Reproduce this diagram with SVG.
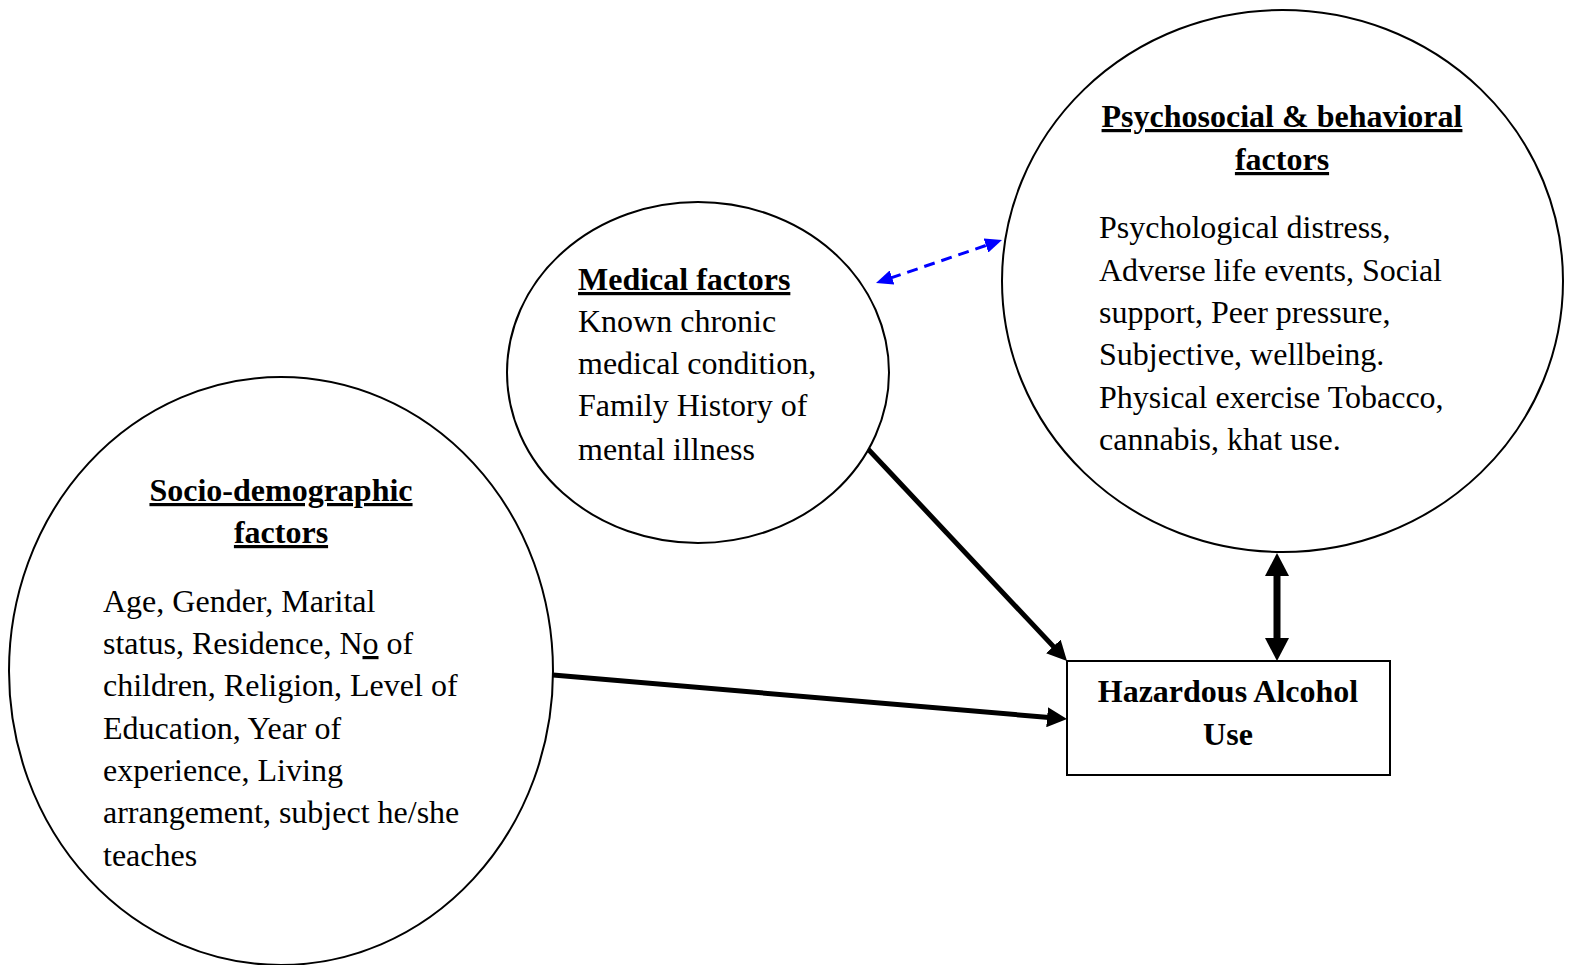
<svg xmlns="http://www.w3.org/2000/svg" width="1572" height="965" viewBox="0 0 1572 965">
<style>
.node{fill:#fff;stroke:#000;stroke-width:2}
.t{font-family:"Liberation Serif","Times New Roman",serif;font-size:32px;fill:#000}
.h{font-family:"Liberation Serif","Times New Roman",serif;font-size:32px;font-weight:bold;fill:#000;text-decoration:underline}
.b{font-family:"Liberation Serif","Times New Roman",serif;font-size:32px;font-weight:bold;fill:#000}
.c{stroke:#000;stroke-width:5;fill:none}
.v{stroke:#000;stroke-width:7;fill:none}
.d{stroke:#0000ff;stroke-width:3;fill:none;stroke-dasharray:11,7}
</style>
<defs>
<marker id="ah" viewBox="0 0 20 20" refX="2" refY="10" markerWidth="20" markerHeight="20" orient="auto-start-reverse" markerUnits="userSpaceOnUse">
<path d="M0,0 L20,10 L0,20 z" fill="#000"/>
</marker>
<marker id="vh" viewBox="0 0 23 24" refX="2" refY="12" markerWidth="23" markerHeight="24" orient="auto-start-reverse" markerUnits="userSpaceOnUse">
<path d="M0,0 L23,12 L0,24 z" fill="#000"/>
</marker>
<marker id="bh" viewBox="0 0 17 15" refX="2" refY="7.5" markerWidth="17" markerHeight="15" orient="auto-start-reverse" markerUnits="userSpaceOnUse">
<path d="M0,0 L17,7.5 L0,15 z" fill="#0000ff"/>
</marker>
</defs>
<rect width="1572" height="965" fill="#fff"/>
<g id="connectors">
<line class="c" x1="553" y1="675" x2="1049.1" y2="717.5" marker-end="url(#ah)"/>
<line class="c" x1="868" y1="449" x2="1054.7" y2="647.9" marker-end="url(#ah)"/>
<line class="v" x1="1277" y1="574" x2="1277" y2="640" marker-start="url(#vh)" marker-end="url(#vh)"/>
<line class="d" x1="890.2" y1="278.2" x2="987.8" y2="244.8" marker-start="url(#bh)" marker-end="url(#bh)"/>
</g>
<g id="socio">
<ellipse class="node" cx="281" cy="671" rx="272" ry="294"/>
<text class="h" x="281" y="501" text-anchor="middle">Socio-demographic</text>
<text class="h" x="281" y="543" text-anchor="middle">factors</text>
<text class="t" x="103" y="612">Age, Gender, Marital</text>
<text class="t" x="103" y="654">status, Residence, N<tspan text-decoration="underline">o</tspan> of</text>
<text class="t" x="103" y="696">children, Religion, Level of</text>
<text class="t" x="103" y="739">Education, Year of</text>
<text class="t" x="103" y="781">experience, Living</text>
<text class="t" x="103" y="823">arrangement, subject he/she</text>
<text class="t" x="103" y="866">teaches</text>
</g>
<g id="medical">
<ellipse class="node" cx="698" cy="372.5" rx="191" ry="170.5"/>
<text class="h" x="578" y="290">Medical factors</text>
<text class="t" x="578" y="332">Known chronic</text>
<text class="t" x="578" y="374">medical condition,</text>
<text class="t" x="578" y="416">Family History of</text>
<text class="t" x="578" y="460">mental illness</text>
</g>
<g id="psychosocial">
<ellipse class="node" cx="1282.5" cy="281" rx="280.5" ry="271"/>
<text class="h" x="1282" y="127" text-anchor="middle">Psychosocial &amp; behavioral</text>
<text class="h" x="1282" y="170" text-anchor="middle">factors</text>
<text class="t" x="1099" y="238">Psychological distress,</text>
<text class="t" x="1099" y="281">Adverse life events, Social</text>
<text class="t" x="1099" y="323">support, Peer pressure,</text>
<text class="t" x="1099" y="365">Subjective, wellbeing.</text>
<text class="t" x="1099" y="408">Physical exercise Tobacco,</text>
<text class="t" x="1099" y="450">cannabis, khat use.</text>
</g>
<g id="outcome">
<rect class="node" x="1067" y="661" width="323" height="114"/>
<text class="b" x="1228" y="702" text-anchor="middle">Hazardous Alcohol</text>
<text class="b" x="1228" y="745" text-anchor="middle">Use</text>
</g>
</svg>
